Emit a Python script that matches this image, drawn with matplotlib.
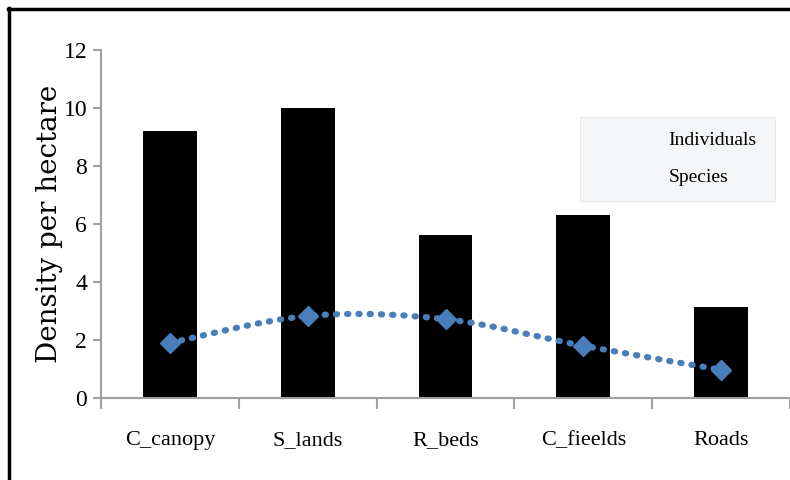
import matplotlib
matplotlib.use("Agg")
import matplotlib.pyplot as plt
from matplotlib.path import Path
from matplotlib.patches import PathPatch, Patch
from matplotlib.lines import Line2D
import numpy as np

categories = ["C_canopy", "S_lands", "R_beds", "C_fieelds", "Roads"]
individuals = [9.2, 10.0, 5.62, 6.31, 3.14]
species = [1.9, 2.83, 2.72, 1.8, 0.97]
yticks = [0, 2, 4, 6, 8, 10, 12]

plt.rcParams['font.family'] = ['Liberation Serif', 'DejaVu Serif']

fig = plt.figure(figsize=(7.9, 4.8), dpi=100)
ax = fig.add_axes([101/790, 1-398/480, 1-101/790, (398-50)/480])

x = np.arange(len(categories))
ax.bar(x, individuals, width=0.39, color='black', zorder=2)

# smoothed line (Catmull-Rom style bezier through data points)
pts = np.column_stack([x, species]).astype(float)
verts = [tuple(pts[0])]
codes = [Path.MOVETO]
n = len(pts)
for i in range(n - 1):
    p0 = pts[i - 1] if i > 0 else pts[i]
    p1 = pts[i]
    p2 = pts[i + 1]
    p3 = pts[i + 2] if i + 2 < n else pts[i + 1]
    c1 = p1 + (p2 - p0) / 6.0
    c2 = p2 - (p3 - p1) / 6.0
    verts += [tuple(c1), tuple(c2), tuple(p2)]
    codes += [Path.CURVE4] * 3
path = Path(verts, codes)
ax.add_patch(PathPatch(path, facecolor='none', edgecolor='#4a7ebb', lw=4.5,
                       linestyle=(0, (0.2, 1.6)), capstyle='round', zorder=3))
ax.plot(x, species, linestyle='none', marker='D', markersize=10,
        color='#4a7ebb', zorder=4)

ax.set_xlim(-0.5, 4.5)
ax.set_ylim(0, 12)
ax.set_yticks(yticks)
ax.set_yticklabels([str(t) for t in yticks], fontsize=17)
ax.set_xticks(x)
ax.set_xticklabels(categories, fontsize=16)
ax.set_xticks(np.arange(-0.5, 4.6, 1.0), minor=True)
ax.tick_params(axis='x', which='major', length=0, pad=24)
ax.tick_params(axis='x', which='minor', length=8, color='#a0a0a0', width=1.5)
ax.tick_params(axis='y', length=6, color='#a0a0a0', width=1.5, pad=4)
for s in ['top', 'right']:
    ax.spines[s].set_visible(False)
ax.spines['left'].set_color('#a0a0a0')
ax.spines['bottom'].set_color('#a0a0a0')
ax.spines['left'].set_linewidth(1.5)
ax.spines['bottom'].set_linewidth(1.5)
ax.set_ylabel("Density per hectare", fontsize=20, labelpad=0,
              family=['DejaVu Serif'])

handles = [Patch(facecolor='none', edgecolor='none'),
           Patch(facecolor='none', edgecolor='none')]
leg = ax.legend(handles, ["Individuals", "Species"], loc='upper left',
                bbox_to_anchor=((580-101)/689, 1-(117-50)/348,
                                (775-580)/689, 0.0),
                mode='expand',
                fontsize=14, frameon=True, fancybox=False,
                handlelength=3.8, handletextpad=0.0, borderpad=0.75,
                labelspacing=1.0, borderaxespad=0)
frame = leg.get_frame()
frame.set_facecolor('#f3f4f6')
frame.set_edgecolor('#e4e6ea')
frame.set_linewidth(0.8)

# figure border
fig.add_artist(Line2D([9/790, 9/790], [0, 1 - 8/480], color='black', lw=2.5,
                      transform=fig.transFigure))
fig.add_artist(Line2D([8/790, 1], [1 - 9/480, 1 - 9/480], color='black', lw=2.5,
                      transform=fig.transFigure))

fig.savefig("out.png", dpi=100)
